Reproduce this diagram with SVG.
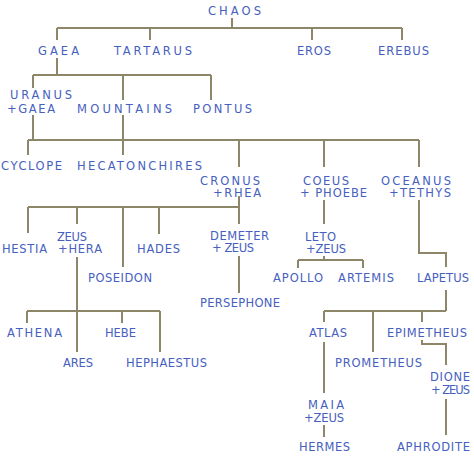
<svg xmlns="http://www.w3.org/2000/svg" width="474" height="456" viewBox="0 0 474 456">
<style>
text{font-family:"DejaVu Sans","Open Sans","Liberation Sans",sans-serif;font-size:11.5px;fill:#4660c0;}
.c path{fill:none;stroke:#8e8668;stroke-width:2;}
</style>
<rect width="474" height="456" fill="#fff"/>
<g class="c" id="connectors">
<path d="M232,18V28M57,28H402M57,28V40M150,28V40M312,28V40M402,28V40"/>
<path d="M57,58V75M33,75H211M33,75V88M123,75V100M211,75V100"/>
<path d="M33,115V140M123,115V155M28,140H419M28,140V155M239,140V167M324,140V167M419,140V167"/>
<path d="M239,196V224M28,207H239M28,207V233M77,207V224M123,207V267M159,207V234"/>
<path d="M77,257V352M27,311H160M27,311V323M122,311V323M160,311V352"/>
<path d="M239,256V293"/>
<path d="M324,200V224M324,256V260M298,260H363M298,260V268M363,260V268"/>
<path d="M419,200V253H446V267"/>
<path d="M446,290V311M324,311H446M324,311V322M373,311V352M422,311V322"/>
<path d="M324,342V393M422,340V344H446V365M446,399V435M324,425V437"/>
</g>
<g id="chaos"><text x="208" y="15" textLength="53" lengthAdjust="spacing">CHAOS</text></g>
<g id="gaea"><text x="38" y="55" textLength="41" lengthAdjust="spacing">GAEA</text></g>
<g id="tartarus"><text x="114" y="55" textLength="78" lengthAdjust="spacing">TARTARUS</text></g>
<g id="eros"><text x="297" y="55" textLength="34" lengthAdjust="spacing">EROS</text></g>
<g id="erebus"><text x="378" y="55" textLength="51" lengthAdjust="spacing">EREBUS</text></g>
<g id="uranus-gaea"><text x="10" y="99" textLength="62" lengthAdjust="spacing">URANUS</text><text x="7" y="113" textLength="48" lengthAdjust="spacing">+GAEA</text></g>
<g id="mountains"><text x="77" y="113" textLength="95" lengthAdjust="spacing">MOUNTAINS</text></g>
<g id="pontus"><text x="193" y="113" textLength="59" lengthAdjust="spacing">PONTUS</text></g>
<g id="cyclope"><text x="1" y="170" textLength="61" lengthAdjust="spacing">CYCLOPE</text></g>
<g id="hecatonchires"><text x="77" y="170" textLength="125" lengthAdjust="spacing">HECATONCHIRES</text></g>
<g id="cronus-rhea"><text x="200" y="185" textLength="60" lengthAdjust="spacing">CRONUS</text><text x="213" y="197" textLength="48" lengthAdjust="spacing">+RHEA</text></g>
<g id="coeus-phoebe"><text x="303" y="185" textLength="46" lengthAdjust="spacing">COEUS</text><text x="300" y="197" textLength="67" lengthAdjust="spacing">+ PHOEBE</text></g>
<g id="oceanus-tethys"><text x="381" y="185" textLength="70" lengthAdjust="spacing">OCEANUS</text><text x="389" y="197" textLength="62" lengthAdjust="spacing">+TETHYS</text></g>
<g id="hestia"><text x="2" y="253" textLength="45" lengthAdjust="spacing">HESTIA</text></g>
<g id="zeus-hera"><text x="57" y="241" textLength="30" lengthAdjust="spacing">ZEUS</text><text x="58" y="253" textLength="44" lengthAdjust="spacing">+HERA</text></g>
<g id="hades"><text x="137" y="253" textLength="43" lengthAdjust="spacing">HADES</text></g>
<g id="poseidon"><text x="88" y="282" textLength="64" lengthAdjust="spacing">POSEIDON</text></g>
<g id="demeter-zeus"><text x="210" y="240" textLength="59" lengthAdjust="spacing">DEMETER</text><text x="212" y="252" textLength="42" lengthAdjust="spacing">+ ZEUS</text></g>
<g id="persephone"><text x="200" y="307" textLength="80" lengthAdjust="spacing">PERSEPHONE</text></g>
<g id="leto-zeus"><text x="305" y="241" textLength="31" lengthAdjust="spacing">LETO</text><text x="306" y="253" textLength="40" lengthAdjust="spacing">+ZEUS</text></g>
<g id="apollo"><text x="273" y="282" textLength="50" lengthAdjust="spacing">APOLLO</text></g>
<g id="artemis"><text x="338" y="282" textLength="56" lengthAdjust="spacing">ARTEMIS</text></g>
<g id="lapetus"><text x="417" y="282" textLength="52" lengthAdjust="spacing">LAPETUS</text></g>
<g id="athena"><text x="7" y="337" textLength="55" lengthAdjust="spacing">ATHENA</text></g>
<g id="hebe"><text x="105" y="337" textLength="31" lengthAdjust="spacing">HEBE</text></g>
<g id="ares"><text x="63" y="367" textLength="30" lengthAdjust="spacing">ARES</text></g>
<g id="hephaestus"><text x="126" y="367" textLength="81" lengthAdjust="spacing">HEPHAESTUS</text></g>
<g id="atlas"><text x="309" y="337" textLength="38" lengthAdjust="spacing">ATLAS</text></g>
<g id="epimetheus"><text x="387" y="337" textLength="80" lengthAdjust="spacing">EPIMETHEUS</text></g>
<g id="prometheus"><text x="335" y="367" textLength="87" lengthAdjust="spacing">PROMETHEUS</text></g>
<g id="dione-zeus"><text x="430" y="381" textLength="40" lengthAdjust="spacing">DIONE</text><text x="431" y="394" textLength="39" lengthAdjust="spacing">+ ZEUS</text></g>
<g id="maia-zeus"><text x="308" y="409" textLength="36" lengthAdjust="spacing">MAIA</text><text x="304" y="422" textLength="40" lengthAdjust="spacing">+ZEUS</text></g>
<g id="hermes"><text x="299" y="451" textLength="51" lengthAdjust="spacing">HERMES</text></g>
<g id="aphrodite"><text x="397" y="451" textLength="73" lengthAdjust="spacing">APHRODITE</text></g>
</svg>
